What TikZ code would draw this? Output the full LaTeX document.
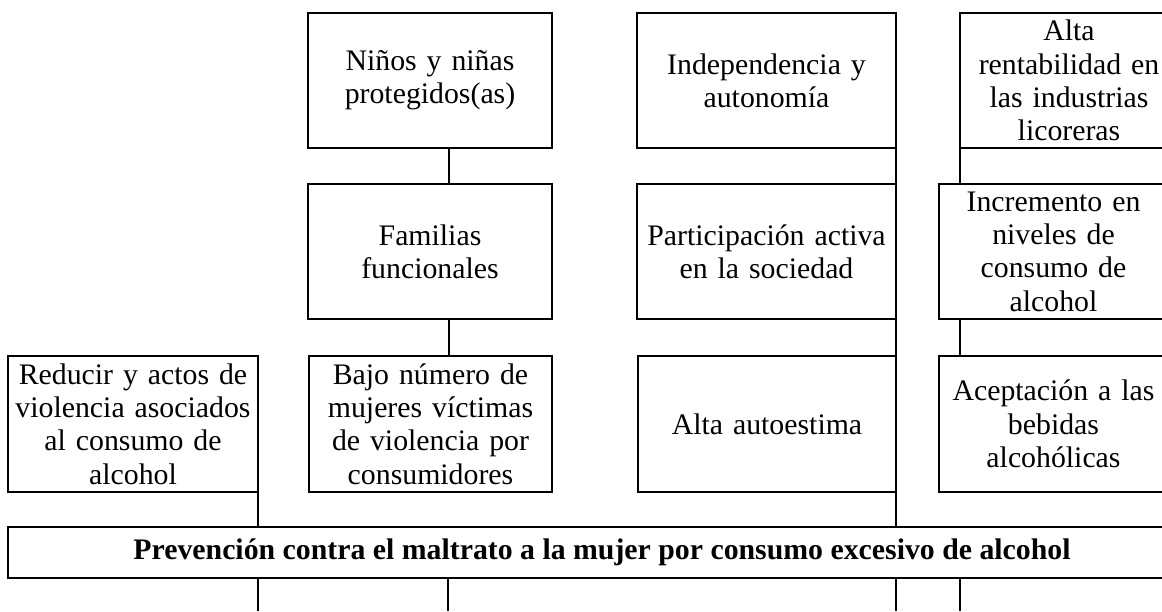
\documentclass[tikz,border=0pt]{standalone}
\usepackage{fontspec}
\setmainfont{Liberation Serif}
\newcommand{\boxfont}{\fontsize{29.8}{33.3}\selectfont}
\begin{document}
\begin{tikzpicture}[x=1pt,y=-1pt,
  box/.style={draw, line width=1.2pt, inner sep=0pt, outer sep=0pt, align=center, font=\boxfont},
  link/.style={line width=1.2pt}]
\useasboundingbox (0,0) rectangle (1162,611);
\clip (0,0) rectangle (1162,611);
% top row
\node[box, minimum width=244pt, minimum height=135pt, text width=242pt] (n1) at (430,80.5) {Niños y niñas\\protegidos(as)};
\node[box, minimum width=259pt, minimum height=135pt, text width=257pt] (n2) at (766.5,80.5) {Independencia y\\autonomía};
\node[box, minimum width=218pt, minimum height=135pt, text width=216pt] (n3) at (1069,80.5) {Alta\\rentabilidad en\\las industrias\\licoreras};
% second row
\node[box, minimum width=244pt, minimum height=135pt, text width=242pt] (f1) at (430,251.5) {Familias\\funcionales};
\node[box, minimum width=259pt, minimum height=135pt, text width=257pt] (f2) at (766.5,251.5) {Participación activa\\en la sociedad};
\node[box, minimum width=229pt, minimum height=135pt, text width=227pt] (f3) at (1053.5,251.5) {Incremento en\\niveles de\\consumo de\\alcohol};
% third row
\node[box, minimum width=250pt, minimum height=136pt, text width=250pt] (b0) at (133,424) {Reducir y actos de\\violencia asociados\\al consumo de\\alcohol};
\node[box, minimum width=243pt, minimum height=136pt, text width=241pt] (b1) at (430.5,424) {Bajo número de\\mujeres víctimas\\de violencia por\\consumidores};
\node[box, minimum width=258pt, minimum height=136pt, text width=256pt] (b2) at (767,424) {Alta autoestima};
\node[box, minimum width=229pt, minimum height=136pt, text width=227pt] (b3) at (1053.5,424) {Aceptación a las\\bebidas\\alcohólicas};
% bar
\node[box, minimum width=1188pt, minimum height=51pt] (bar) at (602,552.5) {\textbf{Prevención contra el maltrato a la mujer por consumo excesivo de alcohol}};
% connectors
\draw[link] (n1.south -| 449,0) -- (f1.north -| 449,0);
\draw[link] (f1.south -| 449,0) -- (b1.north -| 449,0);
\draw[link] (n2.south east) -- (f2.north east);
\draw[link] (f2.south east) -- (b2.north east);
\draw[link] (b2.south east) -- (bar.north -| b2.east);
\draw[link] (n3.south west) -- (f3.north -| n3.west);
\draw[link] (f3.south -| n3.west) -- (b3.north -| n3.west);
\draw[link] (b0.south east) -- (bar.north -| b0.east);
% lines below bar
\coordinate (d1) at (258,611);
\coordinate (d2) at (448,611);
\coordinate (d3) at (896,611);
\coordinate (d4) at (960,611);
\draw[link] (bar.south -| d1) -- (d1);
\draw[link] (bar.south -| d2) -- (d2);
\draw[link] (bar.south -| d3) -- (d3);
\draw[link] (bar.south -| d4) -- (d4);
\end{tikzpicture}
\end{document}
